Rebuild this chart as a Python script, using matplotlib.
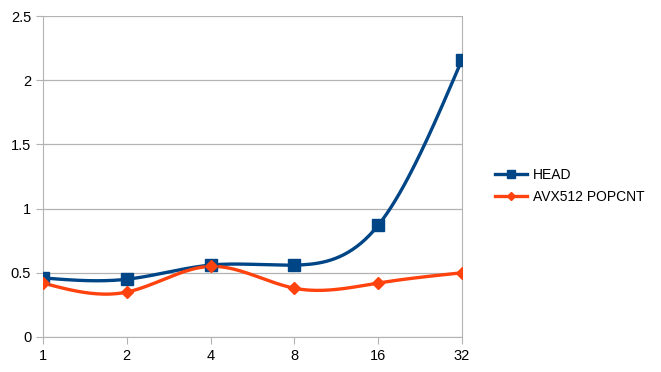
import numpy as np
import matplotlib.pyplot as plt

plt.rcParams['font.family'] = ['Liberation Sans', 'DejaVu Sans']

categories = ['1', '2', '4', '8', '16', '32']
head = [0.46, 0.45, 0.56, 0.56, 0.87, 2.16]
avx512 = [0.42, 0.35, 0.55, 0.38, 0.42, 0.50]


def natural_spline(x, y, n=40):
    """natural cubic spline through the points, for the smoothed line look"""
    x = np.asarray(x, float)
    y = np.asarray(y, float)
    k = len(x)
    h = np.diff(x)
    A = np.zeros((k, k))
    b = np.zeros(k)
    A[0, 0] = A[-1, -1] = 1
    for i in range(1, k - 1):
        A[i, i - 1] = h[i - 1]
        A[i, i] = 2 * (h[i - 1] + h[i])
        A[i, i + 1] = h[i]
        b[i] = 3 * ((y[i + 1] - y[i]) / h[i] - (y[i] - y[i - 1]) / h[i - 1])
    c = np.linalg.solve(A, b)
    xs, ys = [], []
    for i in range(k - 1):
        t = np.linspace(0, h[i], n)
        bi = (y[i + 1] - y[i]) / h[i] - h[i] * (2 * c[i] + c[i + 1]) / 3
        di = (c[i + 1] - c[i]) / (3 * h[i])
        xs.append(x[i] + t)
        ys.append(y[i] + bi * t + c[i] * t ** 2 + di * t ** 3)
    return np.concatenate(xs), np.concatenate(ys)


fig = plt.figure(figsize=(6.61, 3.72), dpi=100)
ax = fig.add_axes([43 / 661, 35 / 372, 419 / 661, 321 / 372])

pos = np.arange(len(categories))
for vals, col, mk, ms, lab in [(head, '#004586', 's', 8, 'HEAD'),
                               (avx512, '#ff420e', 'D', 6.5, 'AVX512 POPCNT')]:
    sx, sy = natural_spline(pos, vals)
    ax.plot(sx, sy, color=col, lw=2.4, zorder=3)
    ax.plot(pos, vals, color=col, lw=0, marker=mk, ms=ms, zorder=4)
    ax.plot([], [], color=col, lw=2.4, marker=mk, ms=ms * 0.7, label=lab)

ax.set_xlim(0, len(categories) - 1)
ax.set_ylim(0, 2.5)
ax.set_xticks(pos)
ax.set_xticklabels(categories)
ax.set_yticks(np.arange(0, 2.51, 0.5))
ax.set_yticklabels(['0', '0.5', '1', '1.5', '2', '2.5'])
ax.grid(axis='y', color='#b3b3b3', lw=0.9)
ax.set_axisbelow(True)
for s in ['left', 'bottom', 'right']:
    ax.spines[s].set_color('#b3b3b3')
ax.spines['top'].set_visible(False)
ax.tick_params(colors='#b3b3b3', labelcolor='black', labelsize=10.5, length=5)
ax.tick_params(axis='x', pad=4)

ax.legend(loc='center left', bbox_to_anchor=(1.05, 0.47), frameon=False,
          fontsize=10, handlelength=2.3, labelspacing=0.55, handletextpad=0.4)

fig.savefig('out.png', dpi=100)
